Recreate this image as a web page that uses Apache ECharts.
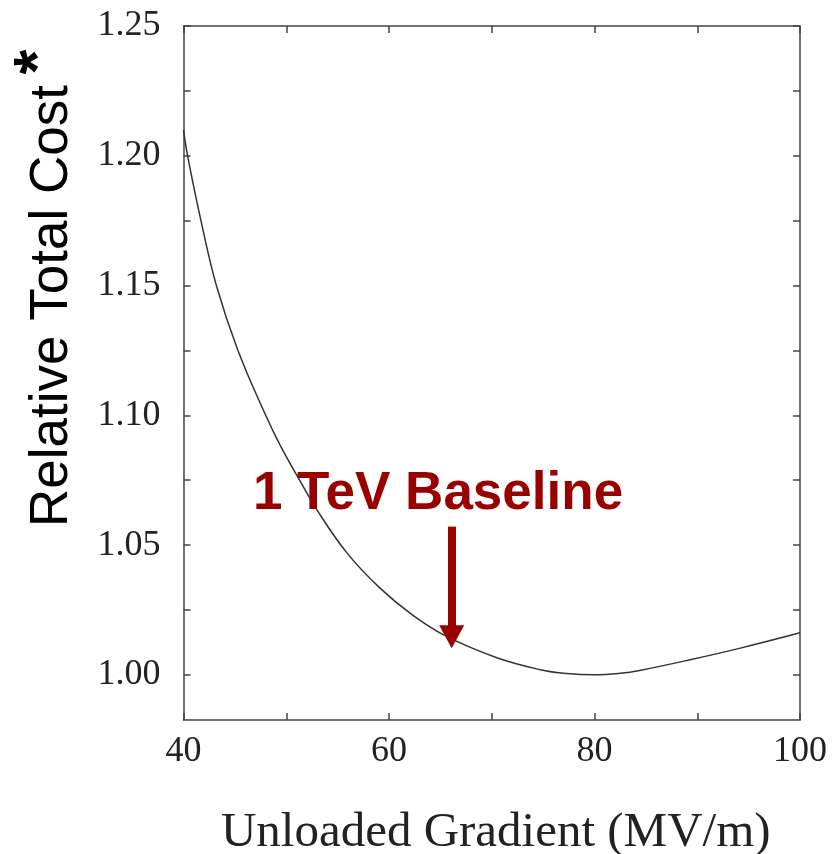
<!DOCTYPE html>
<html>
<head>
<meta charset="utf-8">
<script src="https://cdn.jsdelivr.net/npm/echarts@6/dist/echarts.min.js"></script>
<style>
  html, body { margin: 0; padding: 0; background: #fff; }
  #main { width: 834px; height: 854px; }
</style>
</head>
<body>
<div id="main"></div>
<script>
// 数据：加速梯度 vs 相对总成本
var gradient = [40, 40.4, 41.7, 43.2, 45.3, 48.0, 49.4, 51.3, 53.0, 55.9, 59.1, 62.3, 65.6, 70.5, 74.7, 77.3, 80, 82.5, 84.4, 89.3, 94.2, 100];
var relCost = [1.210, 1.200, 1.175, 1.150, 1.125, 1.100, 1.0885, 1.075, 1.0635, 1.047, 1.0335, 1.023, 1.0148, 1.0066, 1.002, 1.0005, 1.000, 1.0006, 1.0017, 1.0058, 1.0103, 1.0162];

var xTicks = [40, 50, 60, 70, 80, 90, 100];
var xLabels = [40, 60, 80, 100];
var yTicks = [1.0, 1.025, 1.05, 1.075, 1.1, 1.125, 1.15, 1.175, 1.2, 1.225, 1.25];
var yLabels = [1.0, 1.05, 1.1, 1.15, 1.2, 1.25];

// 基线标注
var baselineText = '1 TeV Baseline';
var baselineX = 66.1;
var arrowFrom = 1.0571;
var arrowTo = 1.0147;

var myChart = echarts.init(document.getElementById('main'));

var axisColor = '#444';
var serif = '"Liberation Serif", "DejaVu Serif", serif';
var sans = '"Liberation Sans", Arial, sans-serif';

var option = {
    backgroundColor: '#fff',
    animation: false,
    grid: { left: 183.5, right: 34, top: 26, bottom: 134, outerBoundsMode: 'none' },
    xAxis: [{
        type: 'value',
        min: 40,
        max: 100,
        position: 'bottom',
        name: 'Unloaded Gradient (MV/m)',
        nameLocation: 'middle',
        nameGap: 89,
        nameTextStyle: { fontFamily: serif, fontSize: 49, color: '#222', padding: [0, 0, 0, 8] },
        axisLine: { show: true, lineStyle: { color: axisColor, width: 1.5 } },
        axisTick: { show: true, inside: true, length: 7, customValues: xTicks, lineStyle: { color: axisColor, width: 1.5 } },
        axisLabel: { customValues: xLabels, margin: 14, fontFamily: serif, fontSize: 36, color: '#222' },
        splitLine: { show: false }
    }, {
        type: 'value',
        min: 40,
        max: 100,
        position: 'top',
        axisLine: { show: true, lineStyle: { color: axisColor, width: 1.5 } },
        axisTick: { show: true, inside: true, length: 7, customValues: xTicks, lineStyle: { color: axisColor, width: 1.5 } },
        axisLabel: { show: false },
        splitLine: { show: false }
    }],
    yAxis: [{
        type: 'value',
        min: 0.9826,
        max: 1.25,
        position: 'left',
        axisLine: { show: true, lineStyle: { color: axisColor, width: 1.5 } },
        axisTick: { show: true, inside: true, length: 7, customValues: yTicks, lineStyle: { color: axisColor, width: 1.5 } },
        axisLabel: {
            customValues: yLabels,
            margin: 23,
            fontFamily: serif,
            fontSize: 36,
            color: '#222',
            formatter: function (v) { return v.toFixed(2); }
        },
        splitLine: { show: false }
    }, {
        type: 'value',
        min: 0.9826,
        max: 1.25,
        position: 'right',
        axisLine: { show: true, lineStyle: { color: axisColor, width: 1.5 } },
        axisTick: { show: true, inside: true, length: 7, customValues: yTicks, lineStyle: { color: axisColor, width: 1.5 } },
        axisLabel: { show: false },
        splitLine: { show: false }
    }],
    graphic: [{
        type: 'text',
        x: 52,
        y: 527,
        rotation: Math.PI / 2,
        style: {
            text: 'Relative Total Cost',
            fontFamily: sans,
            fontSize: 53,
            fill: '#000',
            align: 'left',
            verticalAlign: 'middle'
        }
    }, {
        type: 'text',
        x: 41,
        y: 62,
        rotation: Math.PI / 2,
        style: {
            text: '*',
            fontFamily: sans,
            fontSize: 64,
            fontWeight: 'bold',
            fill: '#000',
            align: 'center',
            verticalAlign: 'middle'
        }
    }],
    series: [{
        type: 'line',
        data: gradient.map(function (g, i) { return [g, relCost[i]]; }),
        smooth: 0.4,
        showSymbol: false,
        lineStyle: { color: '#333', width: 1.5 },
        markLine: {
            silent: true,
            symbol: ['none', 'triangle'],
            symbolSize: [25, 23],
            lineStyle: { color: '#990000', width: 8, type: 'solid' },
            label: { show: false },
            data: [[{ coord: [baselineX, arrowFrom] }, { coord: [baselineX, arrowTo] }]]
        },
        markPoint: {
            silent: true,
            symbol: 'circle',
            symbolSize: 0,
            label: {
                show: true,
                position: 'inside',
                formatter: baselineText,
                fontFamily: sans,
                fontSize: 53,
                fontWeight: 'bold',
                color: '#990000'
            },
            data: [{ coord: [64.77, 1.0695] }]
        }
    }]
};

myChart.setOption(option);
</script>
</body>
</html>
